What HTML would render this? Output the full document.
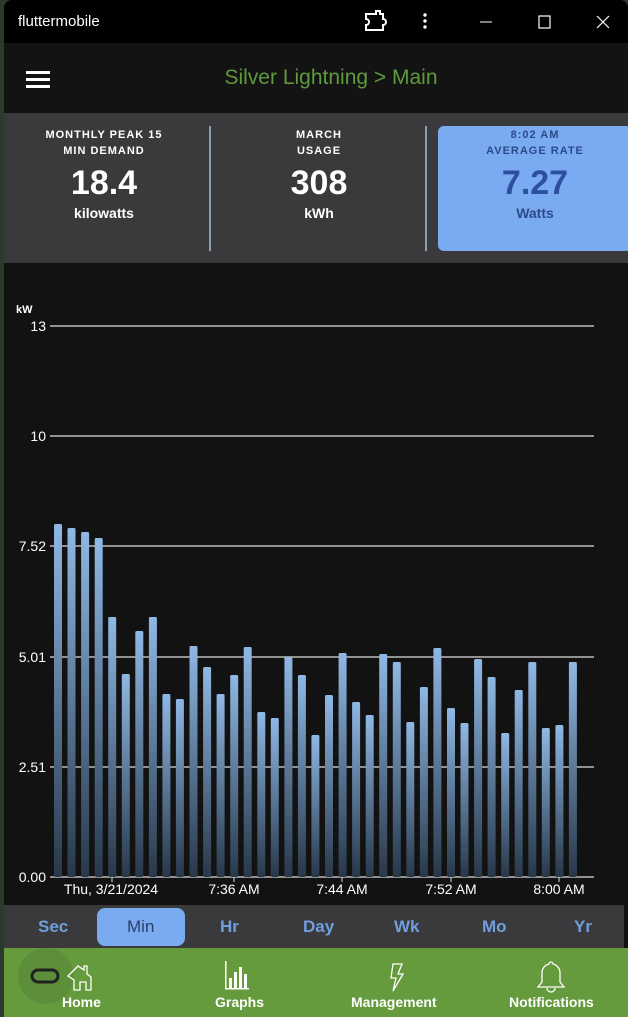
<!DOCTYPE html>
<html><head><meta charset="utf-8"><style>
*{margin:0;padding:0;box-sizing:border-box}
body{width:628px;height:1017px;background:#2b3a2b;font-family:"Liberation Sans",sans-serif;overflow:hidden;position:relative}
.win{position:absolute;left:4px;top:0;width:624px;height:1017px;background:#121212;border-radius:8px 8px 0 0;overflow:hidden}
.tb{position:absolute;left:0;top:0;width:624px;height:43px;background:#000;color:#fff;font-size:15px}
.app{position:absolute;top:43px;left:0;width:624px;height:70px;background:#131313}
.stats{position:absolute;top:113px;left:0;width:624px;height:150px;background:#3a3a3c;color:#fff;text-align:center}
.st{position:absolute;top:0;font-weight:bold}
.lab{font-size:11px;letter-spacing:1px;line-height:16px}
.big{font-size:34px;line-height:40px;margin-top:4px}
.unit{font-size:14px;margin-top:2px}
.sep{position:absolute;top:13px;width:2px;height:125px;background:#8aa0b8}
.tabs{position:absolute;top:905px;left:4px;width:620px;height:43px;background:#3a3a3c;color:#6f9fdc;font-size:17px;font-weight:bold}
.tabs span{position:absolute;top:12px}
.nav{position:absolute;top:948px;left:0;width:624px;height:69px;background:#659a3d;color:#fff;font-size:14px;font-weight:bold}
.nav span{position:absolute;top:46px}
</style></head><body>
<div class="win">
<div class="tb"><span style="position:absolute;left:14px;top:13px">fluttermobile</span>
<svg style="position:absolute;left:0;top:0" width="624" height="43"><path d="M362 14h10v-3h4v3h3v5a3 3 0 0 1 0 6v5h-17v-5a3 3 0 0 0 0-6z" fill="none" stroke="#fff" stroke-width="2"/><circle cx="421" cy="15" r="1.7" fill="#fff"/><circle cx="421" cy="21" r="1.7" fill="#fff"/><circle cx="421" cy="27" r="1.7" fill="#fff"/><line x1="476" y1="22" x2="488" y2="22" stroke="#fff"/><rect x="535" y="16" width="11" height="12" fill="none" stroke="#fff" stroke-width="1.2"/><path d="M593 16l12 12M605 16l-12 12" stroke="#fff" stroke-width="1.2"/></svg></div>
<div class="app"><svg style="position:absolute;left:22px;top:28px" width="26" height="20"><rect y="0" width="24" height="3" fill="#fff"/><rect y="7" width="24" height="3" fill="#fff"/><rect y="14" width="24" height="3" fill="#fff"/></svg>
<div style="position:absolute;left:0;width:624px;top:23px;text-align:center;color:#5f9a3c;font-size:21px;padding-left:30px">Silver Lightning &gt; Main</div></div>
<div class="stats">
<div class="st" style="left:0;width:200px;top:14px"><div class="lab">MONTHLY PEAK 15<br>MIN DEMAND</div><div class="big">18.4</div><div class="unit">kilowatts</div></div>
<div class="sep" style="left:205px"></div>
<div class="st" style="left:210px;width:210px;top:14px"><div class="lab">MARCH<br>USAGE</div><div class="big">308</div><div class="unit">kWh</div></div>
<div class="sep" style="left:421px"></div>
<div style="position:absolute;left:434px;top:13px;width:194px;height:125px;background:#7aabf0;border-radius:6px;color:#2b4a8a;font-weight:bold;padding-top:1px"><div class="lab">8:02 AM<br>AVERAGE RATE</div><div class="big" style="color:#2d4fa0">7.27</div><div class="unit">Watts</div></div>
</div>
</div>
<svg style="position:absolute;left:0;top:263px" width="628" height="642">
<defs><linearGradient id="g" x1="0" y1="0" x2="0" y2="1"><stop offset="0" stop-color="#8fb8e4"/><stop offset="1" stop-color="#28384a"/></linearGradient></defs>
<g font-family="Liberation Sans,sans-serif" fill="#fff" font-size="14">
<text x="16" y="50" font-size="11" font-weight="bold">kW</text>
<g stroke="#ddd" stroke-width="1.3"><line x1="50" y1="63" x2="594" y2="63"/><line x1="50" y1="173" x2="594" y2="173"/><line x1="50" y1="283" x2="594" y2="283"/><line x1="50" y1="394" x2="594" y2="394"/><line x1="50" y1="504" x2="594" y2="504"/><line x1="50" y1="614" x2="594" y2="614"/></g>
<text x="46" y="68" text-anchor="end">13</text><text x="46" y="178" text-anchor="end">10</text><text x="46" y="288" text-anchor="end">7.52</text><text x="46" y="399" text-anchor="end">5.01</text><text x="46" y="509" text-anchor="end">2.51</text><text x="46" y="619" text-anchor="end">0.00</text>
<g id="bars"></g>
<g stroke="#ddd"><line x1="112" y1="614" x2="112" y2="619"/><line x1="234" y1="614" x2="234" y2="619"/><line x1="342" y1="614" x2="342" y2="619"/><line x1="451" y1="614" x2="451" y2="619"/><line x1="559" y1="614" x2="559" y2="619"/></g>
<text x="111" y="631" text-anchor="middle">Thu, 3/21/2024</text><text x="234" y="631" text-anchor="middle">7:36 AM</text><text x="342" y="631" text-anchor="middle">7:44 AM</text><text x="451" y="631" text-anchor="middle">7:52 AM</text><text x="559" y="631" text-anchor="middle">8:00 AM</text>
</g></svg>
<div class="tabs"><span style="left:34px">Sec</span><div style="position:absolute;left:93px;top:3px;width:88px;height:38px;background:#7aabf0;border-radius:8px"></div><span style="left:123px;color:#2a3f6a;font-weight:normal">Min</span><span style="left:216px">Hr</span><span style="left:299px">Day</span><span style="left:390px">Wk</span><span style="left:478px">Mo</span><span style="left:570px">Yr</span></div>
<div class="nav" style="left:4px">
<svg style="position:absolute;left:0;top:0" width="624" height="69"><circle cx="42" cy="28" r="28" fill="#5d8f3a"/><rect x="28" y="22" width="26" height="12" rx="6" fill="none" stroke="#222" stroke-width="3"/><path d="M64 28l10-10 6 4v-4h3v8l4 3v13h-5v-8h-6v8h-6v-10z" fill="none" stroke="#fff" stroke-width="1.3"/><g fill="#fff"><rect x="221" y="13" width="1.5" height="28"/><rect x="225" y="30" width="3" height="11"/><rect x="230" y="24" width="3" height="17"/><rect x="235" y="19" width="3" height="22"/><rect x="240" y="26" width="3" height="15"/><rect x="221" y="40" width="24" height="1.5"/></g><path d="M389 16h9l-4 10h5l-10 17 3-13h-5z" fill="none" stroke="#fff" stroke-width="1.3"/><path d="M545 16a2 2 0 0 1 4 0a9 9 0 0 1 7 9v9l4 5h-26l4-5v-9a9 9 0 0 1 7-9zM543 40a4 4 0 0 0 8 0" fill="none" stroke="#fff" stroke-width="1.3"/></svg>
<span style="left:58px">Home</span><span style="left:211px">Graphs</span><span style="left:347px">Management</span><span style="left:505px">Notifications</span></div>
<script>
var t=[524,528,532,538,617,674,631,617,694,699,646,667,694,675,647,712,718,657,675,735,695,653,702,715,654,662,722,687,648,708,723,659,677,733,690,662,728,725,662];
var s='';for(var i=0;i<t.length;i++){var x=54+i*13.55,y=t[i]-263;s+='<rect x="'+x.toFixed(1)+'" y="'+y+'" width="8" height="'+(614-y)+'" rx="1.5" fill="url(#g)"/>';}
document.getElementById('bars').innerHTML=s;
</script>
</body></html>
